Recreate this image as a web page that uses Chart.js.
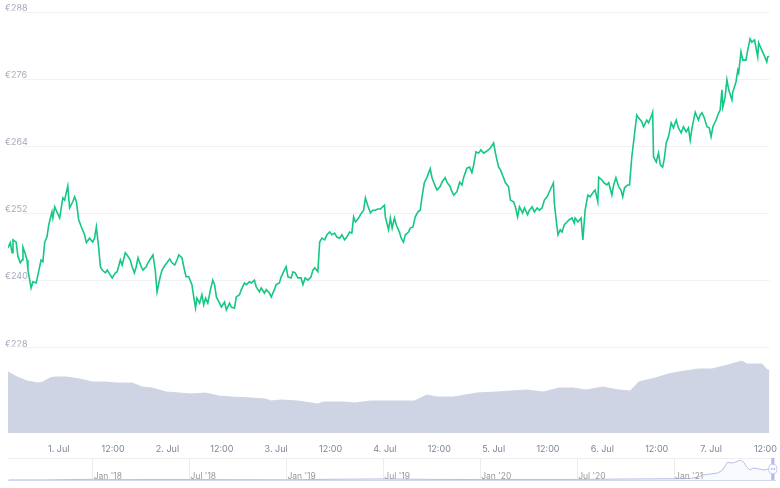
<!DOCTYPE html>
<html>
<head>
<meta charset="utf-8">
<script src="https://cdn.jsdelivr.net/npm/chart.js@4"></script>
<style>
  html, body { margin: 0; padding: 0; background: #fff; }
  #wrap { position: relative; width: 780px; height: 488px; overflow: hidden; }
  #main { position: absolute; left: 0; top: 0; }
  #nav { position: absolute; left: 0; top: 452px; }
</style>
</head>
<body>
<div id="wrap">
  <canvas id="main" width="780" height="452"></canvas>
  <canvas id="nav" width="780" height="36"></canvas>
</div>
<script>
// ── Price (EUR), hours since 1 Jul 00:00 ─────────────────────────────────
const priceHours = [
  -11.2,-10.7,-10.3,-10.1,-9.4,-9.0,-8.5,-8.1,-7.9,-7.5,-7.0,-6.8,-6.1,-5.7,-5.0,-4.6,-3.9,-3.5,-3.1,-2.6,
  -2.2,-1.5,-1.3,-0.9,-0.4,0.2,0.9,1.3,2.0,2.4,3.1,3.5,3.9,4.4,5.0,5.7,6.1,6.8,7.5,7.9,
  8.3,8.8,9.2,9.6,10.3,10.7,11.4,11.8,12.5,12.9,13.6,14.0,14.7,15.1,15.8,16.2,16.7,17.1,17.5,18.2,
  18.6,19.3,19.7,20.4,20.8,21.3,21.7,22.4,22.8,23.5,23.9,24.5,25.0,25.6,26.1,26.5,27.2,27.6,28.1,28.7,
  29.4,29.8,30.2,30.5,
  31.1,31.6,32.0,32.4,32.9,33.5,34.0,34.4,34.8,35.5,35.9,36.6,37.0,37.7,38.1,38.8,39.2,39.9,40.3,41.0,
  41.4,42.1,42.5,43.2,43.6,44.3,44.7,45.4,45.8,46.5,46.9,47.6,48.0,48.7,49.1,49.8,50.2,50.6,51.3,51.7,
  52.2,52.8,53.5,53.9,54.4,55.0,55.7,56.1,56.5,57.2,57.6,58.1,58.7,59.2,59.8,60.3,60.9,61.4,62.0,62.5,
  63.1,63.6,64.2,64.7,65.1,65.5,66.2,66.6,67.3,67.7,68.2,68.8,69.3,69.9,
  70.4,71.0,71.9,72.1,72.8,73.2,73.6,74.1,74.5,75.2,75.6,76.1,76.5,77.2,77.6,78.2,78.7,79.3,79.8,80.2,
  80.7,81.3,82.0,82.4,82.8,83.5,84.2,84.6,85.3,85.7,86.4,86.8,87.2,87.9,88.5,89.0,89.4,90.1,90.7,91.2,
  91.6,92.1,92.7,93.2,93.8,94.2,94.9,95.3,96.0,96.4,97.1,97.5,98.2,98.6,99.3,99.7,100.4,100.8,101.3,101.7,
  102.4,102.8,103.5,103.9,104.5,105.0,105.6,106.1,106.7,107.2,107.8,108.3,109.2,109.4,109.8,110.2,110.7,111.1,111.6,112.2,
  112.7,113.3,113.8,
  114.0,114.6,115.3,115.7,116.2,116.8,117.3,117.9,118.4,119.0,119.2,119.9,120.3,121.0,121.4,122.1,122.5,123.0,123.6,124.1,
  124.5,124.9,125.6,126.0,126.5,126.9,127.6,128.0,128.7,129.1,129.8,130.2,130.9,131.1,131.3,131.9,132.4,132.8,133.3,133.7,
  134.1,134.6,135.2,135.7,136.3,136.8,137.4,137.9,138.5,139.0,139.4,139.8,140.5,141.2,141.6,142.0,142.5,143.1,143.6,144.0,
  144.4,145.1,145.5,146.0,146.4,146.6,147.1,147.5,147.9,148.6,148.8,149.5,149.9,150.1,150.6,151.0,151.7,152.1,152.6,153.0,
  153.6,154.3,154.5,155.2,155.7,156.3,156.5,156.9
];
const priceValues = [
  245.9,246.8,245.0,247.3,246.9,244.3,243.2,243.7,246.0,245.1,243.7,241.9,238.7,239.8,239.6,241.0,243.7,243.4,246.9,247.8,
  250.0,252.3,251.2,253.2,252.3,251.2,254.8,254.4,256.9,253.0,254.1,255.0,254.1,250.9,249.6,248.2,246.8,247.6,246.9,247.6,
  249.6,246.0,242.5,241.9,241.4,241.9,241.0,240.5,241.4,241.6,243.7,242.8,245.0,244.6,243.7,242.5,241.4,242.5,244.1,242.5,
  241.9,242.5,243.2,244.1,244.6,241.9,238.0,240.7,241.9,242.8,243.2,243.9,243.2,242.8,243.7,244.6,244.1,242.5,240.7,240.7,
  239.3,237.1,235.1,236.9,
  236.0,237.5,235.7,236.9,236.0,238.4,240.1,239.3,237.1,236.0,235.3,236.2,234.8,236.0,235.3,235.1,237.1,237.5,238.4,239.6,
  239.3,239.8,239.6,240.1,238.9,238.0,238.7,237.8,238.4,237.8,237.1,238.4,239.3,239.6,240.7,241.9,242.5,240.7,240.5,241.6,
  241.4,240.5,240.5,239.3,240.5,240.1,240.7,241.9,242.3,241.6,246.9,247.6,247.3,248.2,248.7,248.2,248.5,247.8,247.6,248.2,
  247.3,247.8,248.7,248.5,251.4,250.5,251.2,251.8,252.6,254.8,253.5,252.1,252.6,252.6,
  252.8,252.8,253.5,251.4,249.1,251.2,249.4,251.2,250.0,248.7,247.6,246.9,248.2,248.7,249.4,249.6,251.4,252.3,252.6,255.0,
  257.5,258.5,260.0,258.4,257.5,256.2,256.8,257.6,258.4,257.6,256.8,255.9,255.3,255.9,257.6,257.1,258.5,260.1,260.3,259.3,
  260.7,263.0,262.8,263.4,262.8,263.0,263.4,263.7,264.6,262.8,260.3,259.8,258.4,257.5,256.8,254.4,254.1,253.2,251.4,253.2,
  252.1,253.0,251.8,252.6,253.2,252.3,253.0,252.6,253.0,254.4,255.0,255.9,257.5,253.9,250.9,248.2,249.1,248.7,250.0,250.5,
  250.9,251.2,250.3,
  251.2,250.5,251.2,247.3,252.6,255.3,255.0,255.7,256.2,254.1,258.5,258.0,257.5,257.1,257.5,255.3,257.1,258.4,256.8,256.2,
  255.0,256.6,257.1,257.1,262.1,264.8,269.6,269.1,268.4,267.5,268.7,268.2,269.6,270.1,262.1,261.2,262.8,260.7,260.3,261.9,
  264.6,265.7,268.2,267.3,268.7,267.3,266.4,267.5,266.6,267.3,265.1,267.3,270.1,268.7,269.6,270.0,269.1,267.5,267.3,265.7,
  267.5,268.7,269.6,270.5,274.1,271.0,272.8,275.9,274.1,272.3,273.7,275.5,277.6,277.1,280.9,279.4,279.4,281.2,283.2,282.6,
  283.0,280.0,282.5,281.2,280.3,279.1,280.0,280.1
];

// ── Volume (M€) ───────────────────────────────────────────────────────────
const volumeHours = [
  -11.2,-9.2,-7.0,-5.7,-4.6,-3.5,-2.0,-0.9,1.8,4.6,7.5,10.5,12.7,16.2,18.4,20.6,23.7,26.5,29.4,32.4,
  35.3,38.1,42.5,45.6,46.9,49.1,52.8,55.7,57.2,58.3,63.1,65.3,68.8,73.2,78.5,81.3,83.5,87.2,92.3,96.7,
  103.2,107.0,110.5,113.5,116.4,120.1,123.6,126.2,128.0,131.7,134.6,136.8,141.2,144.2,147.7,150.8,151.9,155.2,156.5,156.9
];
const volumeValues = [
  1525,1400,1300,1275,1250,1275,1375,1400,1400,1350,1275,1275,1250,1250,1150,1125,1025,1000,975,1000,
  925,900,875,850,800,825,800,750,725,775,775,750,800,800,800,950,900,900,1000,1025,
  1075,1025,1125,1125,1075,1150,1075,1050,1275,1375,1475,1525,1600,1600,1700,1800,1725,1725,1575,1575
];

// ── Axes ──────────────────────────────────────────────────────────────────
const priceTicks = [228, 240, 252, 264, 276, 288];
const xTickHours = [0, 12, 24, 36, 48, 60, 72, 84, 96, 108, 120, 132, 144, 156];
const xTickLabels = ['1. Jul', '12:00', '2. Jul', '12:00', '3. Jul', '12:00', '4. Jul', '12:00',
                     '5. Jul', '12:00', '6. Jul', '12:00', '7. Jul', '12:00'];

// ── Navigator (months since Jan 2018, EUR) ────────────────────────────────
const navMonths = [-5.2, -3, 0, 1, 3, 6, 9, 12, 15, 18, 21, 24, 27, 30, 33, 36, 37, 37.5, 37.8,
                   38.7, 39.0, 39.3, 39.6, 39.8, 40.1, 40.3, 40.5, 40.7, 40.9, 41.3, 41.6, 41.8, 42.25];
const navPrices = [1, 2, 18, 9, 11, 12, 7, 5, 20, 28, 16, 12, 14, 15, 26, 33, 40, 80, 135,
                   185, 265, 470, 450, 477, 530, 477, 345, 265, 318, 290, 265, 290, 280];
const navTickMonths = [0, 6, 12, 18, 24, 30, 36];
const navTickLabels = ["Jan '18", "Jul '18", "Jan '19", "Jul '19", "Jan '20", "Jul '20", "Jan '21"];
const navWindowStart = 42.02;

const FONT = 'Inter, "Noto Sans", sans-serif';
Chart.defaults.font.family = FONT;
Chart.defaults.font.size = 9;

const toPoints = (xs, ys) => xs.map((x, i) => ({ x, y: ys[i] }));

// gridlines start right of the mirrored price labels
const labelGap = {
  id: 'labelGap',
  beforeDatasetsDraw(chart) {
    const { ctx, chartArea, scales: { y } } = chart;
    ctx.save();
    ctx.fillStyle = '#fff';
    priceTicks.forEach(v => {
      const py = y.getPixelForValue(v);
      ctx.fillRect(chartArea.left, py - 1.5, 14, 3);
    });
    ctx.restore();
  }
};

new Chart(document.getElementById('main'), {
  type: 'line',
  data: {
    datasets: [
      {
        label: 'Price', data: toPoints(priceHours, priceValues), yAxisID: 'y',
        borderColor: '#16c784', borderWidth: 1.6, pointRadius: 0, tension: 0, order: 1
      },
      {
        label: 'Volume', data: toPoints(volumeHours, volumeValues), yAxisID: 'yVol',
        borderColor: '#cfd4e4', backgroundColor: '#cfd4e4', borderWidth: 1,
        fill: 'origin', pointRadius: 0, tension: 0, order: 2
      }
    ]
  },
  options: {
    responsive: false,
    animation: false,
    events: [],
    layout: { padding: { left: 8, right: 5, top: 12, bottom: 0 }, autoPadding: false },
    plugins: { legend: { display: false }, tooltip: { enabled: false } },
    scales: {
      x: {
        type: 'linear', min: -11.2, max: 156.9,
        grid: { display: false }, border: { display: false },
        afterBuildTicks: s => { s.ticks = xTickHours.map(v => ({ value: v })); },
        afterFit: s => { s.height = 19; },
        ticks: {
          autoSkip: false, maxRotation: 0, padding: 3, color: '#7f8596',
          callback: (v, i) => xTickLabels[i]
        }
      },
      y: {
        min: 212.8, max: 288, position: 'left',
        grid: { color: '#f1f1f3', drawTicks: false }, border: { display: false },
        afterBuildTicks: s => { s.ticks = priceTicks.map(v => ({ value: v })); },
        afterFit: s => { s.width = 0; },
        ticks: { mirror: true, padding: -3, labelOffset: -4, color: '#a5aaba', callback: v => '€' + v }
      },
      yVol: { min: 0, max: 10525, display: false }
    }
  },
  plugins: [labelGap]
});

// navigator: labels inside the strip, selected range + handle at the right end
const navDecor = {
  id: 'navDecor',
  afterDraw(chart) {
    const { ctx, chartArea, scales: { x } } = chart;
    ctx.save();
    ctx.font = '8.5px ' + FONT;
    ctx.fillStyle = '#9a9a9a';
    ctx.textAlign = 'left';
    ctx.textBaseline = 'middle';
    navTickMonths.forEach((m, i) => {
      ctx.fillText(navTickLabels[i], x.getPixelForValue(m) + 1, chartArea.bottom - 4);
    });

    const x0 = x.getPixelForValue(navWindowStart);
    const mid = (chartArea.top + chartArea.bottom) / 2;
    ctx.fillStyle = 'rgba(102,133,194,0.12)';
    ctx.fillRect(x0, chartArea.top, chartArea.right - x0, chartArea.bottom - chartArea.top);
    ctx.fillStyle = '#b4bcf2';
    ctx.fillRect(x0, chartArea.top, 3, chartArea.bottom - chartArea.top);
    ctx.fillStyle = '#fff';
    ctx.strokeStyle = '#c4caf0';
    ctx.beginPath();
    ctx.roundRect(x0 - 2.5, mid - 4.5, 8, 9, 3);
    ctx.fill();
    ctx.stroke();
    ctx.fillStyle = '#9aa1c4';
    ctx.fillRect(x0, mid - 1, 1, 2);
    ctx.fillRect(x0 + 2.5, mid - 1, 1, 2);
    ctx.restore();
  }
};

new Chart(document.getElementById('nav'), {
  type: 'line',
  data: {
    datasets: [{
      data: toPoints(navMonths, navPrices),
      borderColor: '#b7bde6', borderWidth: 1, backgroundColor: 'rgba(183,189,230,0.08)',
      fill: 'origin', pointRadius: 0, tension: 0
    }]
  },
  options: {
    responsive: false,
    animation: false,
    events: [],
    layout: { padding: { left: 8, right: 5, top: 6, bottom: 8 }, autoPadding: false },
    plugins: { legend: { display: false }, tooltip: { enabled: false } },
    scales: {
      x: {
        type: 'linear', min: -5.24, max: 42.25,
        grid: { color: '#ececf0', drawTicks: false },
        border: { display: true, color: '#d3d7f0' },
        afterBuildTicks: s => { s.ticks = navTickMonths.map(v => ({ value: v })); },
        afterFit: s => { s.height = 0; },
        ticks: { display: false }
      },
      y: {
        min: 0, max: 585,
        grid: { color: '#eeeeee', drawTicks: false }, border: { display: false },
        afterBuildTicks: s => { s.ticks = [{ value: 585 }]; },
        afterFit: s => { s.width = 0; },
        ticks: { display: false }
      }
    }
  },
  plugins: [navDecor]
});
</script>
</body>
</html>
